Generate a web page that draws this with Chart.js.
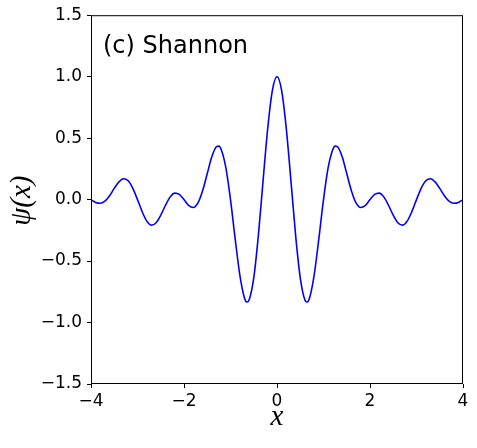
<!DOCTYPE html>
<html>
<head>
<meta charset="utf-8">
<script src="https://cdn.jsdelivr.net/npm/chart.js@4"></script>
<style>
    html, body { margin: 0; padding: 0; background: #fff; }
    #wrap { width: 477px; height: 448px; }
</style>
</head>
<body>
<div id="wrap"><canvas id="psiChart" width="477" height="448"></canvas></div>
<script>
// values
const xValues = [
    -4.0, -3.9, -3.8, -3.7, -3.6, -3.5, -3.4, -3.3, -3.2, -3.1,
    -3.0, -2.9, -2.8, -2.7, -2.6, -2.5, -2.4, -2.3, -2.2, -2.1,
    -2.0, -1.9, -1.8, -1.7, -1.6, -1.5, -1.4, -1.3, -1.25, -1.2, -1.1,
    -1.0, -0.9, -0.8, -0.7, -0.65, -0.6, -0.5, -0.4, -0.3, -0.2, -0.1,
    0.0,
    0.1, 0.2, 0.3, 0.4, 0.5, 0.6, 0.65, 0.7, 0.8, 0.9, 1.0,
    1.1, 1.2, 1.25, 1.3, 1.4, 1.5, 1.6, 1.7, 1.8, 1.9, 2.0,
    2.1, 2.2, 2.3, 2.4, 2.5, 2.6, 2.7, 2.8, 2.9, 3.0,
    3.1, 3.2, 3.3, 3.4, 3.5, 3.6, 3.7, 3.8, 3.9, 4.0
];
const psiValues = [
    0.000, -0.023, -0.030, -0.012, 0.032, 0.091, 0.144, 0.170, 0.153, 0.092,
    0.000, -0.098, -0.175, -0.208, -0.188, -0.127, -0.048, 0.020, 0.053, 0.042,
    0.000, -0.047, -0.064, -0.027, 0.072, 0.212, 0.350, 0.431, 0.435, 0.408, 0.260,
    0.000, -0.317, -0.612, -0.800, -0.833, -0.816, -0.637, -0.289, 0.151, 0.578, 0.887,
    1.000,
    0.887, 0.578, 0.151, -0.289, -0.637, -0.816, -0.833, -0.800, -0.612, -0.317, 0.000,
    0.260, 0.408, 0.435, 0.431, 0.350, 0.212, 0.072, -0.027, -0.064, -0.047, 0.000,
    0.042, 0.053, 0.020, -0.048, -0.127, -0.188, -0.208, -0.175, -0.098, 0.000,
    0.092, 0.153, 0.170, 0.144, 0.091, 0.032, -0.012, -0.030, -0.023, 0.000
];
const xTicks = [-4, -2, 0, 2, 4];
const yTicks = [-1.5, -1.0, -0.5, 0.0, 0.5, 1.0, 1.5];
const panelLabel = '(c) Shannon';
const xTitle = 'x';
const yTitle = 'ψ(x)';

const tickFont = { family: 'DejaVu Sans', size: 17 };

// frame, panel label and math-style axis titles
const extrasPlugin = {
    id: 'extras',
    afterDraw(chart) {
        const ctx = chart.ctx;
        const area = chart.chartArea;
        ctx.save();
        ctx.strokeStyle = '#000';
        ctx.lineWidth = 1;
        ctx.strokeRect(area.left + 0.5, area.top + 0.5, area.right - area.left - 1, area.bottom - area.top - 1);

        ctx.fillStyle = '#000';
        ctx.font = '24px "DejaVu Sans"';
        ctx.textAlign = 'left';
        ctx.textBaseline = 'alphabetic';
        ctx.fillText(panelLabel, area.left + 12, area.top + 38);

        ctx.font = 'italic 29px "Liberation Serif"';
        ctx.textAlign = 'center';
        ctx.textBaseline = 'middle';
        ctx.fillText(xTitle, (area.left + area.right) / 2, area.bottom + 33);

        ctx.translate(22, (area.top + area.bottom) / 2 + 1);
        ctx.rotate(-Math.PI / 2);
        ctx.fillText(yTitle, 0, 0);
        ctx.restore();
    }
};

const points = xValues.map((x, i) => ({ x: x, y: psiValues[i] }));

new Chart(document.getElementById('psiChart').getContext('2d'), {
    type: 'line',
    data: {
        datasets: [{
            data: points,
            borderColor: '#0000ff',
            borderWidth: 1.6,
            pointRadius: 0,
            fill: false,
            cubicInterpolationMode: 'monotone'
        }]
    },
    options: {
        responsive: false,
        animation: false,
        layout: { padding: { top: 14, right: 14, left: 0, bottom: 0 } },
        plugins: { legend: { display: false }, tooltip: { enabled: false } },
        scales: {
            x: {
                type: 'linear',
                min: -4,
                max: 4,
                afterBuildTicks: scale => { scale.ticks = xTicks.map(v => ({ value: v })); },
                afterFit: scale => { scale.height = 64; },
                grid: { display: true, drawOnChartArea: false, tickLength: 4, tickColor: '#000' },
                border: { display: false },
                ticks: {
                    color: '#000',
                    font: tickFont,
                    padding: 3,
                    maxRotation: 0,
                    callback: v => String(v).replace('-', '\u2212')
                }
            },
            y: {
                type: 'linear',
                min: -1.5,
                max: 1.5,
                afterBuildTicks: scale => { scale.ticks = yTicks.map(v => ({ value: v })); },
                afterFit: scale => { scale.width = 91; },
                grid: { display: true, drawOnChartArea: false, tickLength: 4, tickColor: '#000' },
                border: { display: false },
                ticks: {
                    color: '#000',
                    font: tickFont,
                    padding: 5,
                    callback: v => v.toFixed(1).replace('-', '\u2212')
                }
            }
        }
    },
    plugins: [extrasPlugin]
});
</script>
</body>
</html>
